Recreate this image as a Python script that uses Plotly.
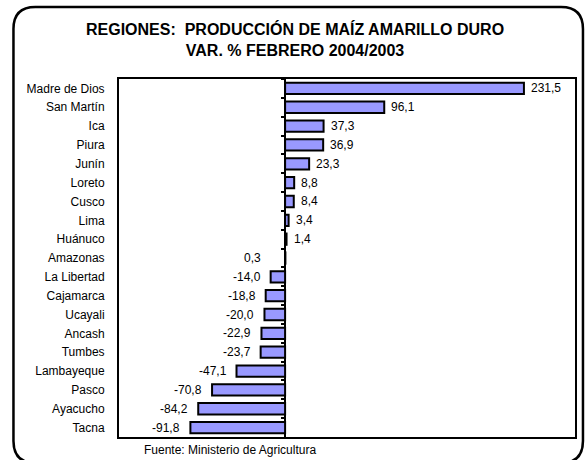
import plotly.graph_objects as go

regiones = ["Madre de Dios", "San Martín", "Ica", "Piura", "Junín", "Loreto", "Cusco",
            "Lima", "Huánuco", "Amazonas", "La Libertad", "Cajamarca", "Ucayali", "Ancash",
            "Tumbes", "Lambayeque", "Pasco", "Ayacucho", "Tacna"]
variacion = [231.5, 96.1, 37.3, 36.9, 23.3, 8.8, 8.4, 3.4, 1.4, 0.3, -14.0, -18.8, -20.0,
             -22.9, -23.7, -47.1, -70.8, -84.2, -91.8]
etiquetas = [f"{v:.1f}".replace(".", ",") for v in variacion]

x_range = [-161, 281]
FONT = "Liberation Sans Narrow, Arial Narrow, Liberation Sans, Arial, sans-serif"

W, H = 588, 460
ML, MR, MT, MB = 119, 11, 79, 23
pw, ph = W - ML - MR, H - MT - MB

fig = go.Figure()
fig.add_trace(go.Bar(
    x=variacion, y=regiones, orientation="h",
    marker=dict(color="#9999FF", line=dict(color="black", width=2)),
    width=0.6, hoverinfo="x+y",
))
# invisible trace on the secondary axis to carry the tick marks at zero
fig.add_trace(go.Scatter(x=[0] * len(regiones), y=regiones, yaxis="y2", mode="markers",
                         marker=dict(opacity=0, size=1), hoverinfo="skip", showlegend=False))

pos0 = (0 - x_range[0]) / (x_range[1] - x_range[0])
y_range = [len(regiones) - 0.5, -0.5]

fig.update_layout(
    width=W, height=H,
    margin=dict(l=ML, r=MR, t=MT, b=MB),
    paper_bgcolor="white", plot_bgcolor="white",
    showlegend=False,
    font=dict(family=FONT, size=12, color="black"),
    xaxis=dict(range=x_range, showgrid=False, zeroline=True, zerolinecolor="black",
               zerolinewidth=2, showticklabels=False, ticks="",
               showline=True, mirror=True, linecolor="black", linewidth=2),
    yaxis=dict(range=y_range, autorange=False, showgrid=False, ticks="", showline=True,
               mirror=True, linecolor="black", linewidth=2,
               tickfont=dict(family=FONT, size=12),
               ticklabelstandoff=10, type="category", categoryarray=regiones),
    yaxis2=dict(overlaying="y", anchor="free", position=pos0, range=y_range,
                autorange=False,
                showticklabels=False, ticks="outside", tickson="boundaries", ticklen=4,
                tickwidth=2, tickcolor="black", showgrid=False, showline=False,
                type="category", categoryarray=regiones),
)

annotations = []
for r, v, t in zip(regiones, variacion, etiquetas):
    pos = v >= 1
    annotations.append(dict(x=v if v < 0 or pos else 0, y=r, text=t, showarrow=False,
                            xanchor="left" if pos else "right",
                            xshift=5 if pos else -(8 if v < 0 else 22),
                            font=dict(family=FONT, size=12, color="black")))

annotations.append(dict(text="<b>REGIONES:  PRODUCCIÓN DE MAÍZ AMARILLO DURO</b><br><b>VAR. % FEBRERO 2004/2003</b>",
                        xref="paper", yref="paper", x=(296 - ML) / pw, y=(H - MB - 40) / ph,
                        xanchor="center", yanchor="middle", showarrow=False,
                        font=dict(family=FONT, size=16, color="black"), align="center"))
annotations.append(dict(text="Fuente: Ministerio de Agricultura", xref="paper", yref="paper",
                        x=(230 - ML) / pw, y=(H - MB - 450) / ph, xanchor="center",
                        yanchor="middle", showarrow=False,
                        font=dict(family=FONT, size=12, color="black")))
fig.update_layout(annotations=annotations)

# rounded outer frame (pixel -> paper)
def px(x):
    return (x - ML) / pw

def py(y):
    return (H - MB - y) / ph

L, T, R, B, rad = 13, 7, 585, 463, 22
path = (f"M {px(L)},{py(T + rad)} Q {px(L)},{py(T)} {px(L + rad)},{py(T)} "
        f"L {px(R - rad)},{py(T)} Q {px(R)},{py(T)} {px(R)},{py(T + rad)} "
        f"L {px(R)},{py(B - rad)} Q {px(R)},{py(B)} {px(R - rad)},{py(B)} "
        f"L {px(L + rad)},{py(B)} Q {px(L)},{py(B)} {px(L)},{py(B - rad)} Z")
fig.add_shape(type="path", path=path, xref="paper", yref="paper",
              line=dict(color="black", width=2.5), layer="above")

fig.write_html("out.html", config={"displayModeBar": False},
               post_script="document.body.style.margin='0';")
